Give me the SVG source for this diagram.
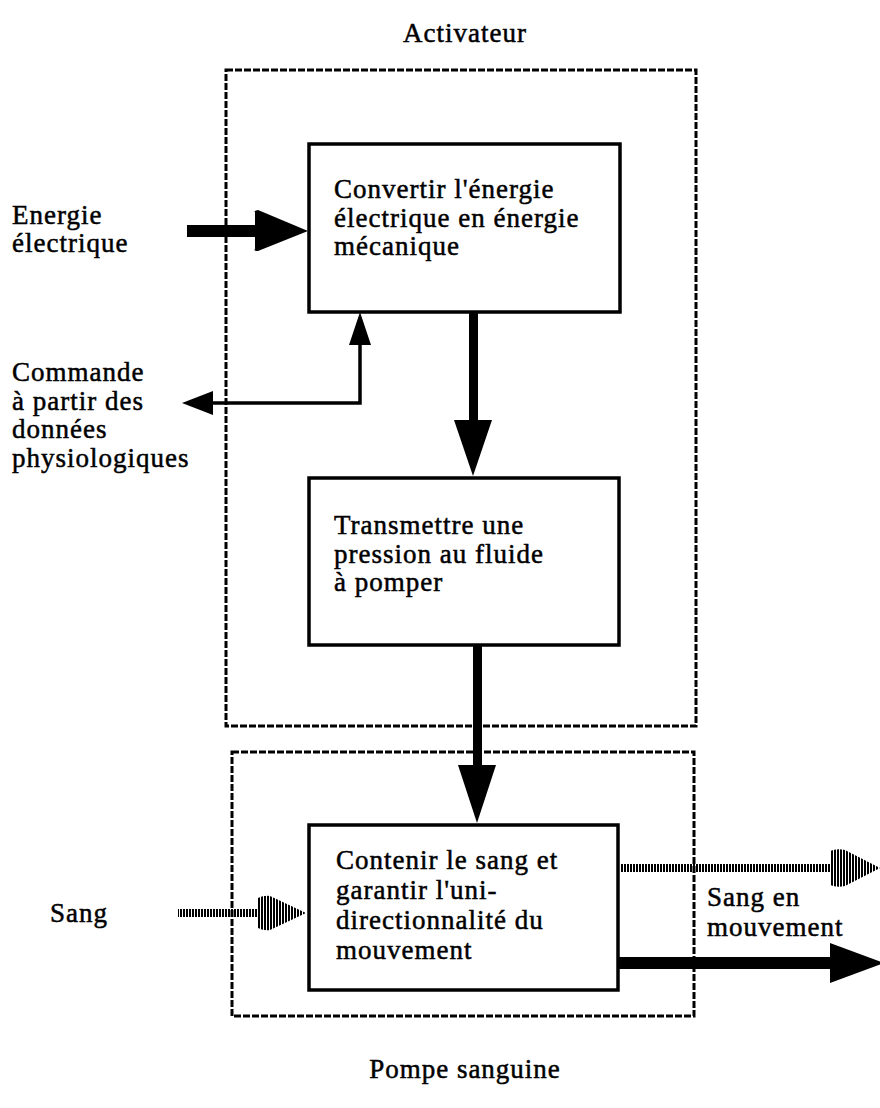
<svg xmlns="http://www.w3.org/2000/svg" width="880" height="1108" viewBox="0 0 880 1108">
  <style>
    .t { font-family: "Liberation Serif", "Times New Roman", serif; font-size: 27px; letter-spacing: 1px; fill: #000; stroke: #000; stroke-width: 0.5; }
    .zone { fill: none; stroke: #000; stroke-width: 3; stroke-dasharray: 7 2; }
    .box { fill: #fff; stroke: #000; stroke-width: 3.5; }
    .line { fill: none; stroke: #000; stroke-width: 3.5; }
    .solid { fill: #000; stroke: none; }
  </style>
  <defs>
    <!-- vertical hatching used for the blood-flow arrows -->
    <pattern id="hatch" width="3" height="10" patternUnits="userSpaceOnUse">
      <rect x="0" y="0" width="2" height="10" fill="#000"/>
    </pattern>
  </defs>
  <rect width="880" height="1108" fill="#fff"/>

  <!-- functional zones -->
  <g id="activateur">
    <rect class="zone" x="226" y="70" width="470" height="656"/>
    <text class="t" x="465" y="42" text-anchor="middle">Activateur</text>
  </g>
  <g id="pompe">
    <rect class="zone" x="232" y="752" width="462" height="264"/>
    <text class="t" x="465" y="1078" text-anchor="middle">Pompe sanguine</text>
  </g>

  <!-- function blocks -->
  <g id="convertir">
    <rect class="box" x="309" y="144" width="311" height="168"/>
    <text class="t" x="334" y="198">Convertir l'énergie</text>
    <text class="t" x="334" y="227">électrique en énergie</text>
    <text class="t" x="334" y="255">mécanique</text>
  </g>
  <g id="transmettre">
    <rect class="box" x="309" y="478" width="310" height="167"/>
    <text class="t" x="334" y="534">Transmettre une</text>
    <text class="t" x="334" y="563">pression au fluide</text>
    <text class="t" x="334" y="591">à pomper</text>
  </g>
  <g id="contenir">
    <rect class="box" x="309" y="825" width="309" height="165"/>
    <text class="t" x="336" y="869">Contenir le sang et</text>
    <text class="t" x="336" y="899">garantir l'uni-</text>
    <text class="t" x="336" y="929">directionnalité du</text>
    <text class="t" x="336" y="959">mouvement</text>
  </g>

  <!-- external flows -->
  <g id="energie">
    <text class="t" x="12" y="224">Energie</text>
    <text class="t" x="12" y="252">électrique</text>
  </g>
  <g id="commande">
    <text class="t" x="12" y="381">Commande</text>
    <text class="t" x="12" y="410">à partir  des</text>
    <text class="t" x="12" y="438">données</text>
    <text class="t" x="12" y="467">physiologiques</text>
  </g>
  <g id="sang">
    <text class="t" x="50" y="922">Sang</text>
  </g>
  <g id="sang-mouvement">
    <text class="t" x="707" y="906">Sang en</text>
    <text class="t" x="707" y="936">mouvement</text>
  </g>

  <!-- connectors -->
  <g id="connectors">
    <!-- electrical energy in -->
    <rect class="solid" x="187" y="225" width="70" height="12"/>
    <path class="solid" d="M255,212 Q253,211 258,210 L308,231 L258,251 Q253,251 255,249 Z"/>

    <!-- control loop -->
    <path class="line" d="M360,343 V403 H210"/>
    <path class="solid" d="M360,312 L371,345 L349,345 Z"/>
    <path class="solid" d="M182,403 L213,391 L213,415 Z"/>

    <!-- mechanical energy down -->
    <rect class="solid" x="469" y="312" width="9" height="112"/>
    <path class="solid" d="M454,420 L492,420 L473,476 Z"/>

    <!-- pressure down -->
    <rect class="solid" x="473" y="645" width="9" height="124"/>
    <path class="solid" d="M458,765 L496,765 L477,823 Z"/>

    <!-- blood in (hatched) -->
    <rect x="178" y="909" width="80" height="8" fill="url(#hatch)"/>
    <path d="M258,898 Q264,895 270,896 L306,913 L270,930 Q264,931 258,928 Z" fill="url(#hatch)"/>

    <!-- blood out (hatched) -->
    <rect x="620" y="864" width="210" height="8" fill="url(#hatch)"/>
    <path d="M830,851 Q837,848 845,850 L880,868 L845,886 Q837,888 830,885 Z" fill="url(#hatch)"/>

    <!-- moving blood out (solid) -->
    <rect class="solid" x="618" y="957" width="214" height="12"/>
    <path class="solid" d="M830,943 L884,963 L830,983 Z"/>
  </g>
</svg>
